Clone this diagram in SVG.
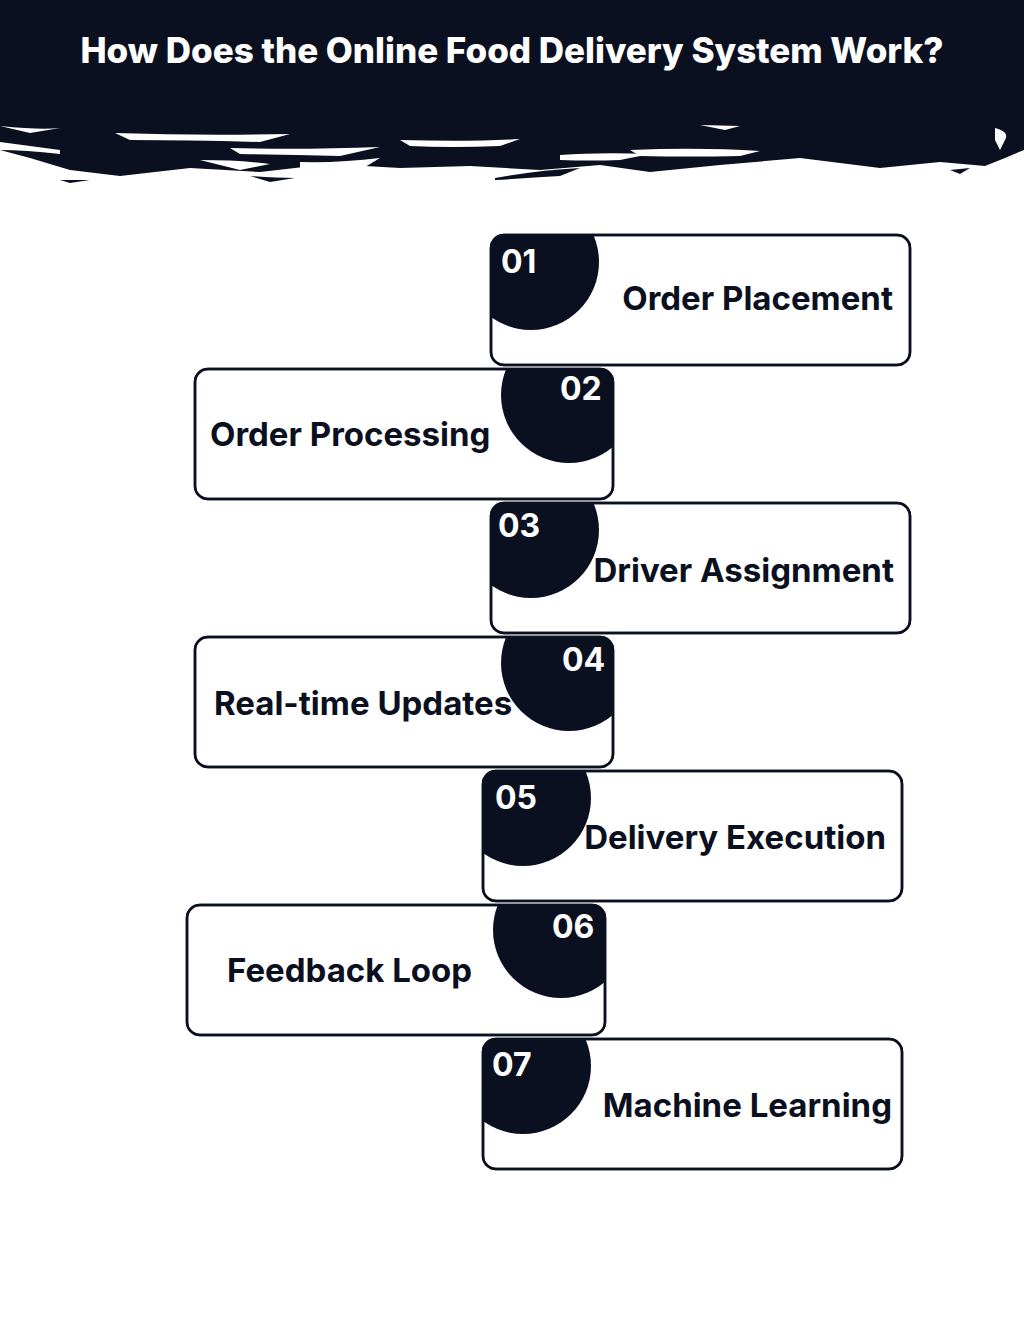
<svg xmlns="http://www.w3.org/2000/svg" width="1024" height="1329" viewBox="0 0 1024 1329">
<style>
.card{fill:#fff;stroke:#0b1020;stroke-width:2.5}
.edge{fill:none;stroke:#0b1020;stroke-width:2.5}
.blob{fill:#0b1020}
.num{font-family:Inter,"Liberation Sans",sans-serif;font-weight:700;font-size:32px;fill:#fff}
.lbl{font-family:Inter,"Liberation Sans",sans-serif;font-weight:700;font-size:33px;fill:#0b1020}
.title{font-family:Inter,"Liberation Sans",sans-serif;font-weight:800;font-size:35px;fill:#fff}
</style>
<defs>
<clipPath id="c1"><rect x="491" y="235" width="419" height="130" rx="13"/></clipPath>
<clipPath id="c2"><rect x="195" y="369" width="418" height="130" rx="13"/></clipPath>
<clipPath id="c3"><rect x="491" y="503" width="419" height="130" rx="13"/></clipPath>
<clipPath id="c4"><rect x="195" y="637" width="418" height="130" rx="13"/></clipPath>
<clipPath id="c5"><rect x="483" y="771" width="419" height="130" rx="13"/></clipPath>
<clipPath id="c6"><rect x="187" y="905" width="418" height="130" rx="13"/></clipPath>
<clipPath id="c7"><rect x="483" y="1039" width="419" height="130" rx="13"/></clipPath>
</defs>
<rect width="1024" height="1329" fill="#fff"/>
<g id="header">
<path class="blob" d="M0 0H1024V150L1005 158 985 166 940 162 880 168 800 158 720 165 650 172 600 165 540 170 470 166 400 168 330 164 260 172 190 168 120 176 70 170 30 158 0 150Z"/>
<g fill="#fff">
<path d="M0 126 Q40 130 60 128 L30 133Z"/>
<path d="M0 142 Q30 146 60 150 L60 154 Q25 150 0 150Z"/>
<path d="M115 133 Q200 136 290 134 L260 142 Q190 140 130 140Z"/>
<path d="M230 148 Q300 150 380 147 L340 156 Q290 155 240 154Z"/>
<path d="M400 140 Q470 142 520 139 L500 146 Q450 148 410 146Z"/>
<path d="M560 155 Q600 152 650 154 L620 160 Q590 161 560 160Z"/>
<path d="M630 150 Q700 147 760 151 L740 156 Q690 157 640 156Z"/>
<path d="M300 162 Q340 163 380 158 L360 170 Q330 172 300 168Z"/>
<path d="M200 160 Q240 160 270 164 L240 170Z"/>
<path d="M700 125 L740 126 725 130Z"/>
<path d="M995 128 Q1010 132 1005 140 L1000 150 995 140Z"/>
</g>
<g fill="#0b1020">
<path d="M495 178 Q540 170 580 168 L560 176 Q530 178 495 180Z"/>
<path d="M250 176 Q275 178 295 178 L270 182Z"/>
<path d="M60 180 L90 180 70 183Z"/>
<path d="M950 170 L970 168 960 174Z"/>
</g>
<text class="title" x="512" y="63" text-anchor="middle">How Does the Online Food Delivery System Work?</text>
</g>
<g id="node1"><rect class="card" x="491" y="235" width="419" height="130" rx="13"/><circle class="blob" cx="531" cy="262" r="68" clip-path="url(#c1)"/><rect class="edge" x="491" y="235" width="419" height="130" rx="13"/><text class="num" x="501" y="273">01</text><text class="lbl" x="893" y="310" text-anchor="end">Order Placement</text></g>
<g id="node2"><rect class="card" x="195" y="369" width="418" height="130" rx="13"/><circle class="blob" cx="569" cy="395" r="68" clip-path="url(#c2)"/><rect class="edge" x="195" y="369" width="418" height="130" rx="13"/><text class="num" x="560" y="400">02</text><text class="lbl" x="210" y="446">Order Processing</text></g>
<g id="node3"><rect class="card" x="491" y="503" width="419" height="130" rx="13"/><circle class="blob" cx="531" cy="530" r="68" clip-path="url(#c3)"/><rect class="edge" x="491" y="503" width="419" height="130" rx="13"/><text class="num" x="498" y="537">03</text><text class="lbl" x="894" y="582" text-anchor="end">Driver Assignment</text></g>
<g id="node4"><rect class="card" x="195" y="637" width="418" height="130" rx="13"/><circle class="blob" cx="569" cy="663" r="68" clip-path="url(#c4)"/><rect class="edge" x="195" y="637" width="418" height="130" rx="13"/><text class="num" x="562" y="671">04</text><text class="lbl" x="214" y="715">Real-time Updates</text></g>
<g id="node5"><rect class="card" x="483" y="771" width="419" height="130" rx="13"/><circle class="blob" cx="523" cy="798" r="68" clip-path="url(#c5)"/><rect class="edge" x="483" y="771" width="419" height="130" rx="13"/><text class="num" x="495" y="809">05</text><text class="lbl" x="886" y="849" text-anchor="end">Delivery Execution</text></g>
<g id="node6"><rect class="card" x="187" y="905" width="418" height="130" rx="13"/><circle class="blob" cx="561" cy="930" r="68" clip-path="url(#c6)"/><rect class="edge" x="187" y="905" width="418" height="130" rx="13"/><text class="num" x="552" y="938">06</text><text class="lbl" x="227" y="982">Feedback Loop</text></g>
<g id="node7"><rect class="card" x="483" y="1039" width="419" height="130" rx="13"/><circle class="blob" cx="523" cy="1066" r="68" clip-path="url(#c7)"/><rect class="edge" x="483" y="1039" width="419" height="130" rx="13"/><text class="num" x="492" y="1076">07</text><text class="lbl" x="892" y="1117" text-anchor="end">Machine Learning</text></g>
<g id="connectors"/>
</svg>
